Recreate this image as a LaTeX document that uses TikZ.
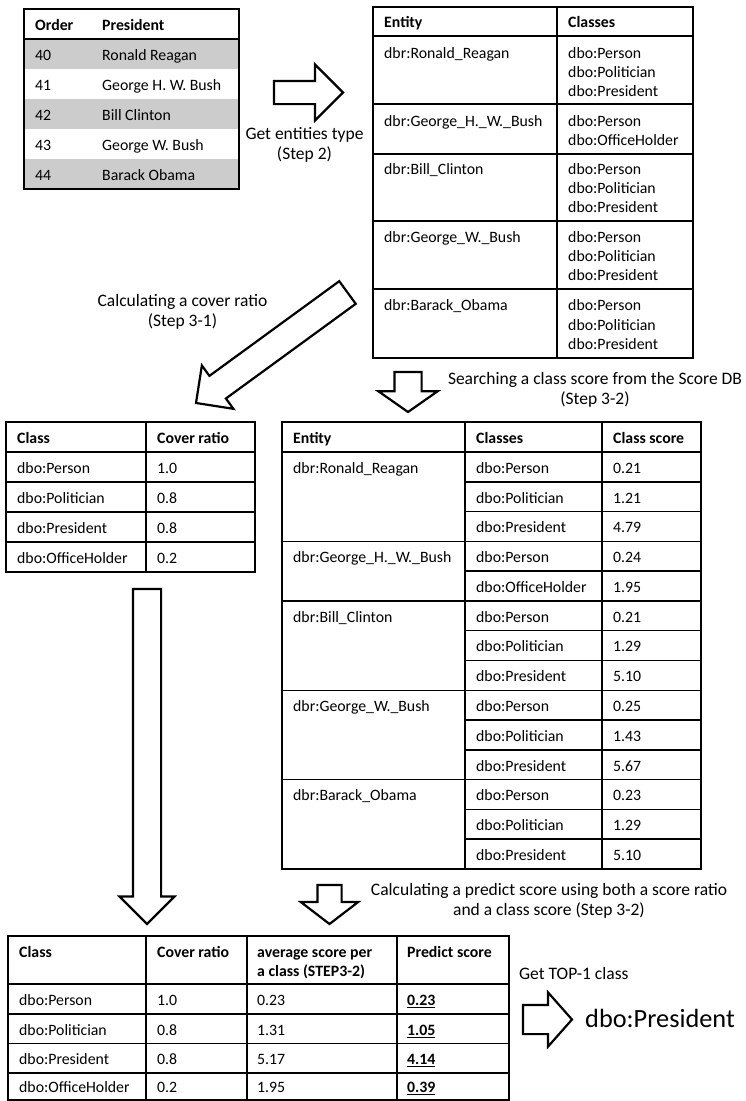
\documentclass[tikz,border=0pt]{standalone}
\usepackage{fontspec}
\setmainfont{Carlito}
\usepackage{tikz}
\usetikzlibrary{shapes.arrows, positioning}

\newcommand{\cellfont}{\fontsize{15.8}{19}\selectfont}
\newcommand{\labelfont}{\fontsize{17.5}{20.5}\selectfont}

\tikzset{
  tableline/.style={line width=1.3pt},
  cell/.style={anchor=west, inner sep=0pt, text height=13pt, text depth=0.5pt},
  headcell/.style={cell, font=\cellfont\bfseries},
  steplabel/.style={anchor=north, inner sep=0pt, align=center, font=\labelfont},
  blockarrow/.style={single arrow, draw, line width=2.2pt, fill=white, anchor=tail,
                     minimum width=0pt, outer sep=0pt, inner xsep=0pt}
}

\begin{document}
\begin{tikzpicture}[x=1pt, y=1pt, every node/.append style={font=\cellfont}]
  \useasboundingbox (0,0) rectangle (746,-1101);

  % President list
  \fill[black!20] (24,-39) rectangle (239,-69);
  \fill[black!20] (24,-99) rectangle (239,-129);
  \fill[black!20] (24,-159) rectangle (239,-189);
  \draw[tableline] (24,-9) rectangle (239,-189);
  \draw[tableline] (24,-39) -- (239,-39);
  \node[headcell] (ordh) at (35,-24) {Order};
  \node[headcell] (presh) at (102,-24) {President};
  \node[cell] (ord40) at (35,-54) {40};  \node[cell] (pres40) at (102,-54) {Ronald Reagan};
  \node[cell] (ord41) at (35,-84) {41};  \node[cell] (pres41) at (102,-84) {George H. W. Bush};
  \node[cell] (ord42) at (35,-114) {42}; \node[cell] (pres42) at (102,-114) {Bill Clinton};
  \node[cell] (ord43) at (35,-144) {43}; \node[cell] (pres43) at (102,-144) {George W. Bush};
  \node[cell] (ord44) at (35,-174) {44}; \node[cell] (pres44) at (102,-174) {Barack Obama};

  % Entity types (Step 2)
  \draw[tableline] (373,-7) rectangle (693,-358);
  \draw[tableline] (557,-7) -- (557,-358);
  \draw[tableline] (373,-36) -- (693,-36) (373,-104) -- (693,-104) (373,-154) -- (693,-154)
                   (373,-221) -- (693,-221) (373,-289) -- (693,-289);
  \node[headcell] (enth) at (384,-21.5) {Entity};
  \node[headcell] (clsh) at (568,-21.5) {Classes};
  \node[cell] (ent1) at (384,-52) {dbr:Ronald\_Reagan};
  \node[cell] (cls1a) at (568,-52) {dbo:Person};
  \node[cell] (cls1b) at (568,-71) {dbo:Politician};
  \node[cell] (cls1c) at (568,-90) {dbo:President};
  \node[cell] (ent2) at (384,-120) {dbr:George\_H.\_W.\_Bush};
  \node[cell] (cls2a) at (568,-120) {dbo:Person};
  \node[cell] (cls2b) at (568,-139) {dbo:OfficeHolder};
  \node[cell] (ent3) at (384,-168) {dbr:Bill\_Clinton};
  \node[cell] (cls3a) at (568,-168) {dbo:Person};
  \node[cell] (cls3b) at (568,-187) {dbo:Politician};
  \node[cell] (cls3c) at (568,-206) {dbo:President};
  \node[cell] (ent4) at (384,-236) {dbr:George\_W.\_Bush};
  \node[cell] (cls4a) at (568,-236) {dbo:Person};
  \node[cell] (cls4b) at (568,-255) {dbo:Politician};
  \node[cell] (cls4c) at (568,-274) {dbo:President};
  \node[cell] (ent5) at (384,-304) {dbr:Barack\_Obama};
  \node[cell] (cls5a) at (568,-304) {dbo:Person};
  \node[cell] (cls5b) at (568,-324) {dbo:Politician};
  \node[cell] (cls5c) at (568,-343) {dbo:President};

  % Cover ratio (Step 3-1)
  \draw[tableline] (6,-422) rectangle (255,-572);
  \draw[tableline] (146,-422) -- (146,-572);
  \draw[tableline] (6,-452) -- (255,-452) (6,-482) -- (255,-482) (6,-512) -- (255,-512) (6,-542) -- (255,-542);
  \node[headcell] (covch) at (17,-437) {Class};
  \node[headcell] (covrh) at (157,-437) {Cover ratio};
  \node[cell] (covc1) at (17,-467) {dbo:Person};       \node[cell] (covr1) at (157,-467) {1.0};
  \node[cell] (covc2) at (17,-497) {dbo:Politician};   \node[cell] (covr2) at (157,-497) {0.8};
  \node[cell] (covc3) at (17,-527) {dbo:President};    \node[cell] (covr3) at (157,-527) {0.8};
  \node[cell] (covc4) at (17,-557) {dbo:OfficeHolder}; \node[cell] (covr4) at (157,-557) {0.2};

  % Class scores (Step 3-2)
  \draw[tableline] (282,-422) rectangle (701,-869);
  \draw[tableline] (465,-422) -- (465,-869) (602,-422) -- (602,-869);
  \draw[tableline] (282,-452) -- (701,-452) (282,-541.5) -- (701,-541.5) (282,-601) -- (701,-601)
                   (282,-690.5) -- (701,-690.5) (282,-779.5) -- (701,-779.5);
  \draw[tableline] (465,-482) -- (701,-482) (465,-511.5) -- (701,-511.5) (465,-571) -- (701,-571)
                   (465,-630.5) -- (701,-630.5) (465,-660.5) -- (701,-660.5) (465,-720) -- (701,-720)
                   (465,-750) -- (701,-750) (465,-809.5) -- (701,-809.5) (465,-839) -- (701,-839);
  \node[headcell] (scoreh1) at (293,-437) {Entity};
  \node[headcell] (scoreh2) at (476,-437) {Classes};
  \node[headcell] (scoreh3) at (613,-437) {Class score};
  \node[cell] (sent1) at (293,-467) {dbr:Ronald\_Reagan};
  \node[cell] (scls1) at (476,-467) {dbo:Person};        \node[cell] (sval1) at (613,-467) {0.21};
  \node[cell] (scls2) at (476,-497) {dbo:Politician};    \node[cell] (sval2) at (613,-497) {1.21};
  \node[cell] (scls3) at (476,-526.5) {dbo:President};   \node[cell] (sval3) at (613,-526.5) {4.79};
  \node[cell] (sent2) at (293,-556) {dbr:George\_H.\_W.\_Bush};
  \node[cell] (scls4) at (476,-556) {dbo:Person};        \node[cell] (sval4) at (613,-556) {0.24};
  \node[cell] (scls5) at (476,-586) {dbo:OfficeHolder};  \node[cell] (sval5) at (613,-586) {1.95};
  \node[cell] (sent3) at (293,-616) {dbr:Bill\_Clinton};
  \node[cell] (scls6) at (476,-616) {dbo:Person};        \node[cell] (sval6) at (613,-616) {0.21};
  \node[cell] (scls7) at (476,-645.5) {dbo:Politician};  \node[cell] (sval7) at (613,-645.5) {1.29};
  \node[cell] (scls8) at (476,-675.5) {dbo:President};   \node[cell] (sval8) at (613,-675.5) {5.10};
  \node[cell] (sent4) at (293,-705) {dbr:George\_W.\_Bush};
  \node[cell] (scls9) at (476,-705) {dbo:Person};        \node[cell] (sval9) at (613,-705) {0.25};
  \node[cell] (scls10) at (476,-735) {dbo:Politician};   \node[cell] (sval10) at (613,-735) {1.43};
  \node[cell] (scls11) at (476,-765) {dbo:President};    \node[cell] (sval11) at (613,-765) {5.67};
  \node[cell] (sent5) at (293,-794.5) {dbr:Barack\_Obama};
  \node[cell] (scls12) at (476,-794.5) {dbo:Person};     \node[cell] (sval12) at (613,-794.5) {0.23};
  \node[cell] (scls13) at (476,-824.5) {dbo:Politician}; \node[cell] (sval13) at (613,-824.5) {1.29};
  \node[cell] (scls14) at (476,-854) {dbo:President};    \node[cell] (sval14) at (613,-854) {5.10};

  % Predict score
  \draw[tableline] (8,-936) rectangle (509,-1100);
  \draw[tableline] (146,-936) -- (146,-1100) (247,-936) -- (247,-1100) (397,-936) -- (397,-1100);
  \draw[tableline] (8,-984) -- (509,-984) (8,-1014) -- (509,-1014) (8,-1043.5) -- (509,-1043.5) (8,-1073) -- (509,-1073);
  \node[headcell] (predh1) at (19,-950.75) {Class};
  \node[headcell] (predh2) at (157,-950.75) {Cover ratio};
  \node[anchor=north west, inner sep=0pt, align=left, font=\cellfont\bfseries] (predh3) at (257,-949.5)
       {average score per\\a class (STEP3-2)};
  \node[headcell] (predh4) at (407,-950.75) {Predict score};
  \node[cell] (predc1) at (19,-999) {dbo:Person};
  \node[cell] (predr1) at (157,-999) {1.0};
  \node[cell] (preda1) at (257,-999) {0.23};
  \node[cell] (preds1) at (407,-999) {\underline{\textbf{0.23}}};
  \node[cell] (predc2) at (19,-1029) {dbo:Politician};
  \node[cell] (predr2) at (157,-1029) {0.8};
  \node[cell] (preda2) at (257,-1029) {1.31};
  \node[cell] (preds2) at (407,-1029) {\underline{\textbf{1.05}}};
  \node[cell] (predc3) at (19,-1058) {dbo:President};
  \node[cell] (predr3) at (157,-1058) {0.8};
  \node[cell] (preda3) at (257,-1058) {5.17};
  \node[cell] (preds3) at (407,-1058) {\underline{\textbf{4.14}}};
  \node[cell] (predc4) at (19,-1086.5) {dbo:OfficeHolder};
  \node[cell] (predr4) at (157,-1086.5) {0.2};
  \node[cell] (preda4) at (257,-1086.5) {1.95};
  \node[cell] (preds4) at (407,-1086.5) {\underline{\textbf{0.39}}};

  % Step arrows
  \node[blockarrow, minimum height=69, inner ysep=10.5, single arrow head extend=16.5,
        single arrow tip angle=90] (typearrow) at (274,-92.5) {};
  \node[blockarrow, rotate=-143.9, minimum height=187.5, inner ysep=12.9, single arrow head extend=12.8,
        single arrow tip angle=90] (coverarrow) at (347.5,-292.5) {};
  \node[blockarrow, rotate=-90, minimum height=40, inner ysep=12.5, single arrow head extend=16,
        single arrow tip angle=110] (searcharrow) at (408,-372) {};
  \node[blockarrow, rotate=-90, minimum height=335, inner ysep=13, single arrow head extend=13.5,
        single arrow tip angle=90] (longarrow) at (147,-589) {};
  \node[blockarrow, rotate=-90, minimum height=39, inner ysep=11, single arrow head extend=16.5,
        single arrow tip angle=105] (predictarrow) at (329.5,-885) {};
  \node[blockarrow, minimum height=49, inner ysep=13.5, single arrow head extend=12.5,
        single arrow tip angle=97] (toparrow) at (523,-1019.5) {};

  % Step labels
  \node[steplabel] (typelabel) at (304.5,-127) {Get entities type\\(Step 2)};
  \node[steplabel] (coverlabel) at (182.5,-294) {Calculating a cover ratio\\(Step 3-1)};
  \node[steplabel] (searchlabel) at (595,-372) {Searching a class score from the Score DB\\(Step 3-2)};
  \node[steplabel] (predictlabel) at (549,-883)
       {Calculating a predict score using both a score ratio\\and a class score (Step 3-2)};
  \node[anchor=base west, inner sep=0pt, font=\labelfont] (toplabel) at (519,-979) {Get TOP-1 class};
  \node[anchor=base west, inner sep=0pt, font=\fontsize{26.3}{30}\selectfont] (result) at (585,-1027) {dbo:President};
\end{tikzpicture}
\end{document}
